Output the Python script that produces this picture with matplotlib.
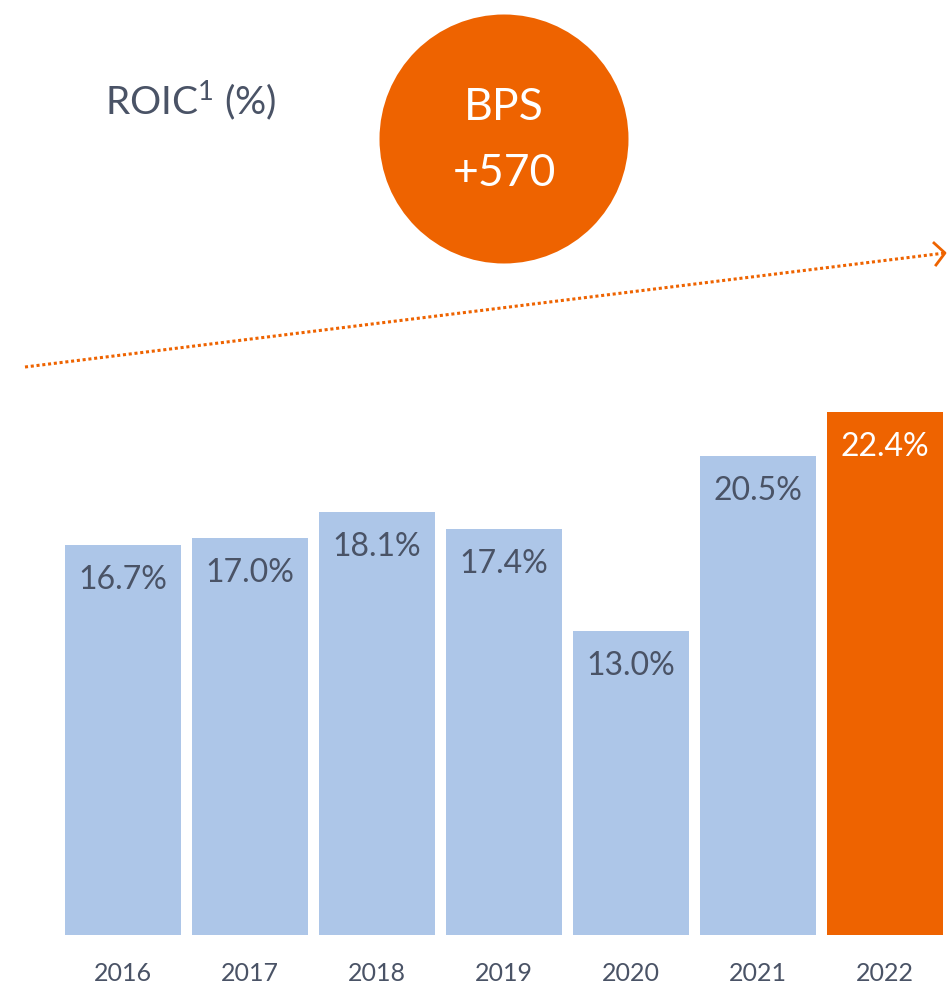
import matplotlib.pyplot as plt
from matplotlib.patches import Ellipse
from matplotlib.lines import Line2D

years = ["2016", "2017", "2018", "2019", "2020", "2021", "2022"]
roic = [16.7, 17.0, 18.1, 17.4, 13.0, 20.5, 22.4]
labels = ["16.7%", "17.0%", "18.1%", "17.4%", "13.0%", "20.5%", "22.4%"]

blue = "#ADC6E8"
orange = "#EE6300"
dark = "#4A5366"

plt.rcParams['font.family'] = ['Lato', 'DejaVu Sans']
plt.rcParams['mathtext.fontset'] = 'custom'
plt.rcParams['mathtext.rm'] = 'Lato'
plt.rcParams['mathtext.default'] = 'regular'

W, H = 947, 990
fig = plt.figure(figsize=(W / 100, H / 100), dpi=100)
ax = fig.add_axes([0, 55 / H, 1, 935 / H])

colors = [blue] * (len(years) - 1) + [orange]
x = list(range(len(years)))
ax.bar(x, roic, width=0.91, color=colors)
ax.set_xlim(-0.969, 6.488)
ax.set_ylim(0, 40.04)
ax.axis("off")

for i, (v, lab) in enumerate(zip(roic, labels)):
    ax.text(i, v - 1.5, lab, ha="center", va="center", fontsize=23,
            color="white" if i == len(years) - 1 else dark)
    ax.text(i, -1.65, years[i], ha="center", va="center", fontsize=18, color=dark)

# title
fig.text(105 / W, 1 - 100 / H, r"ROIC$^{1}$ (%)", ha="left", va="center",
         fontsize=28, color=dark)

# circle with BPS
fig.add_artist(Ellipse((504 / W, 1 - 139 / H), 249 / W, 249 / H,
                       transform=fig.transFigure, color=orange, lw=0))
fig.text(504 / W, 1 - 108 / H, "BPS", ha="center", va="center",
         fontsize=32, color="white")
fig.text(504 / W, 1 - 173 / H, "+570", ha="center", va="center",
         fontsize=32, color="white")

# dotted trend arrow
x0, y0, x1, y1 = 25, 367, 945, 253
fig.add_artist(Line2D([x0 / W, x1 / W], [1 - y0 / H, 1 - y1 / H],
                      transform=fig.transFigure, color=orange, lw=2.2,
                      linestyle=(0, (1, 0.9)), solid_capstyle="butt",
                      dash_capstyle="butt"))
fig.add_artist(Line2D([934 / W, x1 / W, 936 / W],
                      [1 - 243 / H, 1 - y1 / H, 1 - 265 / H],
                      transform=fig.transFigure, color=orange, lw=2.0))

fig.savefig("out.png", dpi=100)
